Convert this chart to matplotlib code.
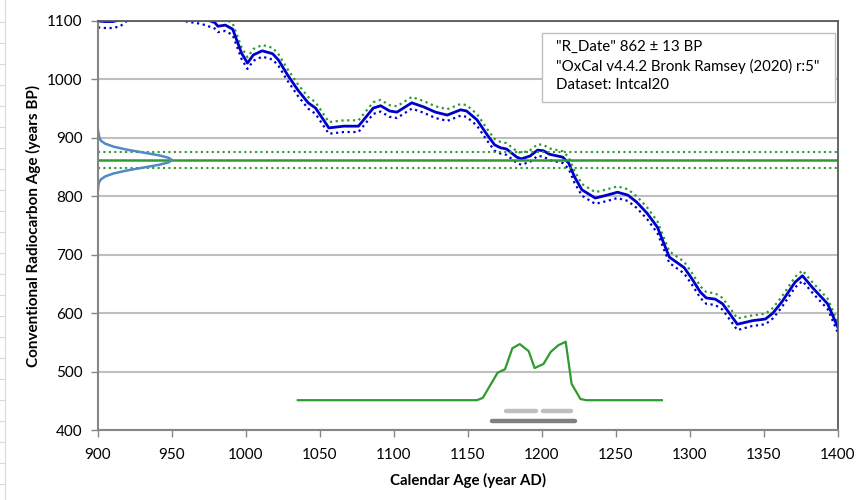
import matplotlib
matplotlib.use('Agg')
import matplotlib.pyplot as plt
from matplotlib.lines import Line2D
from matplotlib.patches import Rectangle

plt.rcParams['font.family'] = ['Lato', 'DejaVu Sans']

# calibration curve (IntCal20)
cal_year = [900, 905, 910, 915, 920, 930, 940, 950, 960, 970, 979, 981, 986, 991, 997,
            1001, 1005, 1011, 1018, 1022, 1028, 1035, 1042, 1047, 1056, 1066, 1076, 1086,
            1091, 1097, 1102, 1112, 1120, 1128, 1136, 1145, 1149, 1156, 1163, 1168, 1172,
            1176, 1183, 1186, 1192, 1197, 1201, 1205, 1214, 1218, 1222, 1227, 1236, 1244,
            1251, 1258, 1264, 1271, 1278, 1286, 1296, 1301, 1307, 1311, 1317, 1322, 1332,
            1342, 1351, 1356, 1362, 1371, 1376, 1383, 1393, 1400]
cal_age = [1100, 1099, 1099, 1102, 1112, 1122, 1125, 1120, 1110, 1106, 1097, 1091, 1093, 1086, 1045,
           1028, 1042, 1049, 1044, 1033, 1008, 982, 960, 951, 917, 920, 920, 951,
           955, 946, 944, 960, 953, 944, 939, 948, 946, 931, 905, 888, 883,
           881, 867, 864, 869, 879, 878, 872, 867, 857, 833, 811, 797, 802,
           807, 802, 790, 771, 747, 696, 678, 660, 636, 626, 624, 616, 581,
           587, 590, 600, 619, 653, 664, 643, 616, 575]
cal_sigma = [11, 11, 11, 11, 11, 11, 11, 11, 11, 11, 10, 10, 10, 10, 10,
             10, 10, 10, 10, 10, 10, 10, 10, 10, 10, 10, 10, 10,
             10, 10, 10, 10, 10, 10, 10, 10, 10, 10, 10, 10, 10,
             10, 10, 10, 10, 10, 10, 10, 10, 10, 10, 10, 10, 10,
             10, 10, 10, 10, 10, 10, 10, 10, 10, 10, 10, 10, 10,
             9, 9, 9, 9, 9, 9, 9, 9, 9]

# radiocarbon date 862 +/- 13 BP
r_date = 862
r_err = 13
rdate_age = [913, 906, 900, 895, 890, 885, 880, 875, 870, 866, 862, 858, 854, 849, 844,
             839, 834, 829, 824, 818, 811]
rdate_width = [0.0, 0.5, 0.9, 2.0, 4.9, 10.4, 19.1, 30.3, 41.4, 47.6, 50.0, 47.6, 41.4, 30.3, 19.1,
               10.4, 4.9, 2.0, 0.7, 0.2, 0.0]

# calibrated distribution
dist_year = [1035, 1104, 1156, 1160, 1170, 1175, 1180, 1185, 1191, 1195, 1201, 1206, 1211,
             1216, 1220, 1226, 1230, 1281]
dist_age = [451, 451, 451, 455, 498, 504, 540, 547, 535, 506, 513, 534, 545,
            551, 479, 453, 451, 451]

# 68% and 95% ranges
range68 = [(1176, 1196), (1200.5, 1219.5)]
range95 = [(1166, 1222)]

upper = [a + s for a, s in zip(cal_age, cal_sigma)]
lower = [a - s for a, s in zip(cal_age, cal_sigma)]

fig = plt.figure(figsize=(8.58, 5), dpi=100)
ax = fig.add_axes([98/858, 1-430/500, 740/858, 409/500])

blue = '#0000CC'
green = '#2E9B2E'

ax.plot(cal_year, upper, color=green, lw=1.6, ls=(0, (1, 1.6)))
ax.plot(cal_year, lower, color=blue, lw=1.6, ls=(0, (1, 1.6)))
ax.plot(cal_year, cal_age, color=blue, lw=2.0)

ax.axhline(r_date, color=green, lw=1.8)
ax.axhline(r_date + r_err, color=green, lw=1.5, ls=(0, (1, 1.6)))
ax.axhline(r_date - r_err, color=green, lw=1.5, ls=(0, (1, 1.6)))

ax.plot([900 + w for w in rdate_width], rdate_age, color='#4F89C6', lw=1.8)

ax.plot(dist_year, dist_age, color=green, lw=1.6)

for a, b in range68:
    ax.plot([a, b], [433, 433], color='#BFBFBF', lw=3.2, solid_capstyle='round')
for a, b in range95:
    ax.plot([a, b], [416, 416], color='#808080', lw=3.2, solid_capstyle='round')

ax.set_xlim(900, 1400)
ax.set_ylim(400, 1100)
ax.set_xticks(range(900, 1401, 50))
ax.set_yticks(range(400, 1101, 100))
ax.grid(axis='y', color='#BFBFBF', lw=1.5)
ax.set_axisbelow(True)

for s in ['top', 'right']:
    ax.spines[s].set_color('#595959')
    ax.spines[s].set_linewidth(1.3)
for s in ['left', 'bottom']:
    ax.spines[s].set_color('#868686')
    ax.spines[s].set_linewidth(1.5)
ax.tick_params(axis='both', length=5, width=1, color='#868686', labelsize=11)
ax.tick_params(axis='x', pad=8)
ax.tick_params(axis='y', pad=6)

ax.set_xlabel('Calendar Age (year AD)', fontweight='bold', fontsize=10.8, labelpad=8)
ax.set_ylabel('Conventional Radiocarbon Age (years BP)', fontweight='bold', fontsize=11, labelpad=4.5)

# info box
fig.add_artist(Rectangle((542/858, 1-102/500), 293/858, 69/500, transform=fig.transFigure,
                         facecolor='white', edgecolor='#BFBFBF', lw=1.0, zorder=5))
info = ['"R_Date" 862 ± 13 BP', '"OxCal v4.4.2 Bronk Ramsey (2020) r:5"', 'Dataset: Intcal20']
for i, t in enumerate(info):
    fig.text(556/858, 1-(47 + 19*i)/500, t, fontsize=10.8, va='center', ha='left', zorder=6)

# spreadsheet cell lines peeking out at the left edge
fig.add_artist(Line2D([5/858, 5/858], [0, 1], color='#D9D9D9', lw=0.8))
for yy in range(22, 500, 21):
    fig.add_artist(Line2D([0, 5/858], [1-yy/500, 1-yy/500], color='#D9D9D9', lw=0.8))

plt.savefig('out.png', dpi=100)
